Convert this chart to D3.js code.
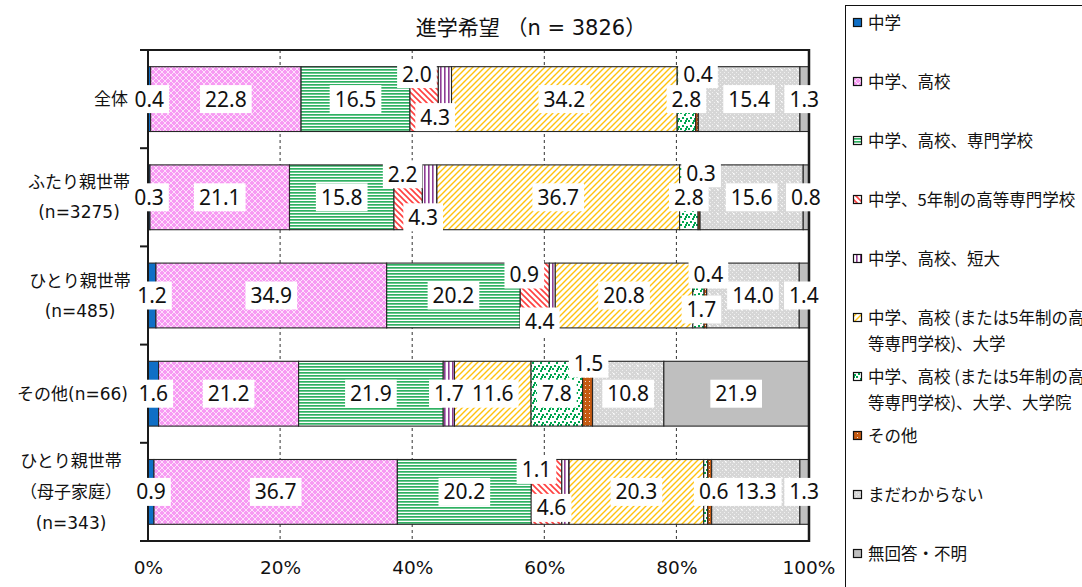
<!DOCTYPE html>
<html>
<head>
<meta charset="utf-8">
<script src="https://cdn.jsdelivr.net/npm/d3@7"></script>
<style>
  html, body { margin: 0; padding: 0; background: #fff; overflow: hidden; }
  svg { display: block; }
  text { fill: #111; }
</style>
</head>
<body>
<svg id="chart" width="1082" height="587"></svg>
<script>
// ---- data ----
const categories = [
  ["全体"],
  ["ふたり親世帯", "(n=3275)"],
  ["ひとり親世帯", "(n=485)"],
  ["その他(n=66)"],
  ["ひとり親世帯", "（母子家庭）", "(n=343)"]
];
const seriesNames = [
  "中学",
  "中学、高校",
  "中学、高校、専門学校",
  "中学、5年制の高等専門学校",
  "中学、高校、短大",
  "中学、高校 (または5年制の高等専門学校)、大学",
  "中学、高校 (または5年制の高等専門学校)、大学、大学院",
  "その他",
  "まだわからない",
  "無回答・不明"
];
// percentages per group, in series order
const valuesAll         = [0.4, 22.8, 16.5, 4.3, 2.0, 34.2, 2.8, 0.4, 15.4, 1.3];
const valuesTwoParent   = [0.3, 21.1, 15.8, 4.3, 2.2, 36.7, 2.8, 0.3, 15.6, 0.8];
const valuesOneParent   = [1.2, 34.9, 20.2, 4.4, 0.9, 20.8, 1.7, 0.4, 14.0, 1.4];
const valuesOther       = [1.6, 21.2, 21.9, 0.0, 1.7, 11.6, 7.8, 1.5, 10.8, 21.9];
const valuesMotherChild = [0.9, 36.7, 20.2, 4.6, 1.1, 20.3, 0.6, 0.6, 13.3, 1.3];
const xTicks = [0, 20, 40, 60, 80, 100];
const titleText = "進学希望 （n = 3826）";

const rows = [valuesAll, valuesTwoParent, valuesOneParent, valuesOther, valuesMotherChild];

// ---- layout ----
const plot = { left: 148, right: 808.5, top: 50, bottom: 541 };
const svg = d3.select("#chart");
const defs = svg.append("defs");

// fill patterns for each series
function pat(id, w, h, bg, draw) {
  const p = defs.append("pattern").attr("id", id).attr("patternUnits", "userSpaceOnUse")
    .attr("width", w).attr("height", h);
  if (bg) p.append("rect").attr("width", w).attr("height", h).attr("fill", bg);
  draw(p);
  return `url(#${id})`;
}
const fills = [
  "#0F6FC6",
  pat("pPink", 6, 6, "#F79AF3", p => {
    p.append("path").attr("d", "M0,0L6,6M6,0L0,6").attr("stroke", "#fff").attr("stroke-width", 1).attr("stroke-opacity", 0.7);
  }),
  pat("pGreen", 3, 3, "#fff", p => {
    p.append("rect").attr("y", 0).attr("width", 3).attr("height", 1.7).attr("fill", "#2FB162");
  }),
  pat("pRed", 6, 6, "#fff", p => {
    p.append("path").attr("d", "M-1,-1L7,7M-1,5L1,7M5,-1L7,1").attr("stroke", "#FF4040").attr("stroke-width", 1.6);
  }),
  pat("pPurple", 4, 4, "#fff", p => {
    p.append("rect").attr("x", 0).attr("width", 1.6).attr("height", 4).attr("fill", "#8E3D95");
  }),
  pat("pYellow", 6, 6, "#fff", p => {
    p.append("path").attr("d", "M-1,7L7,-1M-1,1L1,-1M5,7L7,5").attr("stroke", "#FFC20E").attr("stroke-width", 1.4);
  }),
  pat("pConfetti", 8, 8, "#fff", p => {
    [[0,0],[4,2],[2,5],[6,6],[5,0]].forEach(([x, y]) =>
      p.append("rect").attr("x", x).attr("y", y).attr("width", 2).attr("height", 2).attr("fill", "#00A650"));
  }),
  pat("pOrange", 4, 4, "#C55A11", p => {
    p.append("rect").attr("x", 1).attr("y", 1).attr("width", 1).attr("height", 1).attr("fill", "#fff").attr("opacity", 0.8);
  }),
  pat("pGray", 8, 8, "#D6D6D6", p => {
    p.append("path").attr("d", "M0,0h1v1h-1zM2,2h1v1h-1zM4,4h1v1h-1zM6,6h1v1h-1zM0,4h1v1h-1zM4,0h1v1h-1zM2,6h1v1h-1zM6,2h1v1h-1z").attr("fill", "#EFEFEF");
    p.append("rect").attr("x", 5).attr("y", 5).attr("width", 1.4).attr("height", 1.4).attr("fill", "#fff");
  }),
  "#BFBFBF"
];

const x = d3.scaleLinear().domain([0, 100]).range([plot.left, plot.right]);
const y = d3.scaleBand().domain(d3.range(categories.length))
  .range([plot.top, plot.bottom]).paddingInner(0.34).paddingOuter(0.17);

// dashed gridlines
svg.append("g").selectAll("line").data(xTicks.filter(t => t > 0 && t < 100)).join("line")
  .attr("x1", d => x(d)).attr("x2", d => x(d))
  .attr("y1", plot.top).attr("y2", plot.bottom)
  .attr("stroke", "#333").attr("stroke-width", 1).attr("stroke-dasharray", "3,3");

// stacked segments (each row normalised to 100%)
const stacked = rows.map((vals, r) => {
  const total = d3.sum(vals);
  let acc = 0;
  return vals.map((v, s) => {
    const x0 = acc / total * 100;
    acc += v;
    return { r, s, v, x0, x1: acc / total * 100 };
  });
});

const barG = svg.append("g");
stacked.forEach(row => {
  barG.append("g").selectAll("rect").data(row.filter(d => d.v > 0)).join("rect")
    .attr("x", d => x(d.x0)).attr("width", d => x(d.x1) - x(d.x0))
    .attr("y", d => y(d.r)).attr("height", y.bandwidth())
    .attr("fill", d => fills[d.s])
    .attr("stroke", "#262626").attr("stroke-width", 1.1);
});

// plot frame
const frame = svg.append("g").attr("stroke", "#1a1a1a").attr("stroke-width", 2).attr("fill", "none");
frame.append("line").attr("x1", plot.left).attr("x2", plot.right + 1).attr("y1", plot.top).attr("y2", plot.top);
frame.append("line").attr("x1", plot.left - 8).attr("x2", plot.right + 1).attr("y1", plot.bottom).attr("y2", plot.bottom);
frame.append("line").attr("x1", plot.right + 0.5).attr("x2", plot.right + 0.5).attr("y1", plot.top - 1).attr("y2", plot.bottom + 1).attr("stroke-width", 2.5);
frame.append("line").attr("x1", plot.left).attr("x2", plot.left).attr("y1", plot.top - 1).attr("y2", plot.bottom + 1);
// category boundary ticks
const bounds = d3.range(categories.length + 1).map(i => plot.top + i * y.step());
frame.selectAll(".tk").data(bounds).join("line")
  .attr("x1", plot.left - 8).attr("x2", plot.left).attr("y1", d => d).attr("y2", d => d);

// x axis labels
const xAxis = d3.axisBottom(x).tickValues(xTicks).tickFormat(d => d + "%").tickSize(0).tickPadding(20);
const xg = svg.append("g").attr("transform", `translate(0,${plot.bottom})`).call(xAxis);
xg.select(".domain").remove();
xg.selectAll("text").attr("font-family", "'DejaVu Sans', sans-serif").attr("font-size", 18.5).attr("fill", "#111");

// category labels
const catCenter = [null, 79, 80, null, 71];
categories.forEach((lines, r) => {
  const cy = y(r) + y.bandwidth() / 2;
  const lh = lines.length === 3 ? 31 : 30;
  const t = svg.append("text")
    .attr("font-family", "'DejaVu Sans', 'Noto Sans CJK JP', sans-serif").attr("font-size", 17)
    .attr("text-anchor", lines.length === 1 ? "end" : "middle");
  lines.forEach((ln, i) => {
    t.append("tspan")
      .attr("x", lines.length === 1 ? 128 : catCenter[r])
      .attr("y", cy + (i - (lines.length - 1) / 2) * lh)
      .attr("dy", "0.36em")
      .text(ln);
  });
});

// data labels: shifted positions for labels that would collide
const labelShift = {
  "0-3": [11, 18], "0-4": [-28, -25], "0-7": [1, -25],
  "1-3": [15, 20], "1-4": [-27, -23], "1-7": [2, -24],
  "2-3": [5, 26], "2-4": [-28, -21], "2-6": [3, 14], "2-7": [3, -21],
  "3-7": [1, -30],
  "4-3": [5, 16], "4-4": [-29, -22], "4-6": [8, 0]
};
const hiddenLabels = new Set(["4-7"]);
const lblG = svg.append("g");
stacked.flat().filter(d => d.v > 0 && !hiddenLabels.has(`${d.r}-${d.s}`)).forEach(d => {
  const sh = labelShift[`${d.r}-${d.s}`] || [0, 0];
  const cx = x((d.x0 + d.x1) / 2) + sh[0];
  const cy = y(d.r) + y.bandwidth() / 2 + sh[1];
  const g = lblG.append("g");
  const t = g.append("text").attr("x", cx).attr("y", cy).attr("dy", "0.36em")
    .attr("text-anchor", "middle")
    .attr("font-family", "'Noto Sans', sans-serif").attr("font-size", 21)
    .text(d.v.toFixed(1));
  const bb = t.node().getBBox();
  g.insert("rect", "text").attr("x", bb.x - 5).attr("y", cy - 14).attr("width", bb.width + 10).attr("height", 28).attr("fill", "#fff");
});

// title
svg.append("text").attr("x", 531).attr("y", 35).attr("text-anchor", "middle")
  .attr("font-family", "'DejaVu Sans', 'Noto Sans CJK JP', sans-serif").attr("font-size", 21)
  .text(titleText);

// legend
const legend = svg.append("g");
legend.append("rect").attr("x", 845.5).attr("y", 5.5).attr("width", 300).attr("height", 600)
  .attr("fill", "#fff").attr("stroke", "#111").attr("stroke-width", 1);
const ly = d3.scalePoint().domain(d3.range(seriesNames.length)).range([23, 554]);
seriesNames.forEach((name, i) => {
  const cy = ly(i);
  legend.append("rect").attr("x", 853.5).attr("y", cy - 4.5).attr("width", 8).attr("height", 8)
    .attr("fill", fills[i]).attr("stroke", "#111").attr("stroke-width", 1.2);
  const wrapAt = 15;
  const lines = name.length > wrapAt ? [name.slice(0, wrapAt), name.slice(wrapAt)] : [name];
  const t = legend.append("text").attr("font-family", "'Noto Sans CJK JP', sans-serif").attr("font-size", 16.5);
  lines.forEach((ln, k) => {
    t.append("tspan").attr("x", 868).attr("y", cy + k * 26).attr("dy", "0.36em").text(ln);
  });
});
</script>
</body>
</html>
